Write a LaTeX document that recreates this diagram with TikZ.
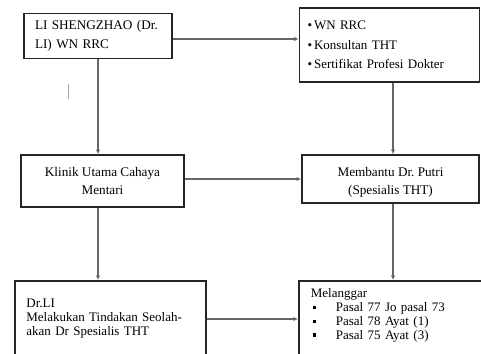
\documentclass[tikz,border=0pt]{standalone}
\usepackage{fontspec}
\setmainfont{Liberation Serif}
\usetikzlibrary{arrows.meta,calc}
\newcommand{\sqbul}{\makebox[25pt][l]{\hspace{2pt}\raisebox{2.5pt}{\rule{3.4pt}{3.4pt}}}}
\tikzset{
  box/.style={draw=black!85, line width=1.8pt, rectangle, font=\fontsize{13.2}{18.5}\selectfont},
  lowbox/.style={draw=black!85, line width=1.8pt, rectangle, font=\fontsize{13}{13.8}\selectfont},
  conn/.style={draw=black!60, line width=1.2pt},
  arr/.style={conn, -{Latex[length=4.5pt,width=4.5pt]}},
}
\begin{document}
\begin{tikzpicture}[x=1pt,y=-1pt]
\useasboundingbox (0,0) rectangle (481,353);
\clip (0,0) rectangle (481,353);
\node[box, minimum width=148pt, minimum height=45pt, text width=126pt, align=left, inner xsep=11pt] (b1) at (98,36)
  {LI SHENGZHAO (Dr.\\LI) WN RRC};
\node[box, minimum width=179pt, minimum height=74pt, text width=164pt, align=left, inner xsep=8pt,
      font=\fontsize{13}{19.5}\selectfont] (b2) at (389.5,45)
  {\textbullet\hspace{2pt}WN RRC\\\textbullet\hspace{2pt}Konsultan THT\\\textbullet\hspace{2pt}Sertifikat Profesi Dokter};
\node[box, minimum width=163pt, minimum height=52pt, align=center] (b3) at (102.5,181)
  {Klinik Utama Cahaya\\Mentari};
\node[box, minimum width=177pt, minimum height=48pt, align=center] (b4) at (390.5,179)
  {\rule{0pt}{16pt}Membantu Dr.\ Putri\\(Spesialis THT)};
\node[lowbox, anchor=north west, minimum width=191pt, text width=168pt,
      align=left, inner xsep=11.5pt, inner ysep=18pt] (b5) at (14,280)
  {Dr.LI\\\makebox[168pt][s]{Melakukan Tindakan Seolah-}\\akan Dr Spesialis THT\rule[-40pt]{0pt}{40pt}};
\node[lowbox, anchor=north west, minimum width=200pt, text width=176pt,
      align=left, inner xsep=8pt, inner ysep=8pt] (b6) at (298,280)
  {Melanggar\\\sqbul Pasal 77 Jo pasal 73\\
   \sqbul Pasal 78 Ayat (1)\\
   \sqbul Pasal 75 Ayat (3)\rule[-40pt]{0pt}{40pt}};
\coordinate (mark1) at (68,84);
\coordinate (mark2) at (68,99);
\draw[black!35, line width=0.8pt] (mark1) -- (mark2);
% connectors
\draw[arr] ([yshift=-3pt]b1.east) -- ([yshift=-3pt]b1.east -| b2.west);
\draw[arr] (b1.south) -- (b1.south |- b3.north);
\draw[arr] ([xshift=3.5pt]b2.south) -- ([xshift=3.5pt]b2.south |- b4.north);
\draw[arr] (b4.west -| b3.east) -- (b4.west);
\draw[arr] (b1.south |- b3.south) -- (b1.south |- b5.north);
\draw[arr] ([xshift=3.5pt]b2.south |- b4.south) -- ([xshift=3.5pt]b2.south |- b6.north);
\draw[arr] ([yshift=-39pt]b5.north east) -- ([yshift=-39pt]b5.north east -| b6.west);
\end{tikzpicture}
\end{document}
